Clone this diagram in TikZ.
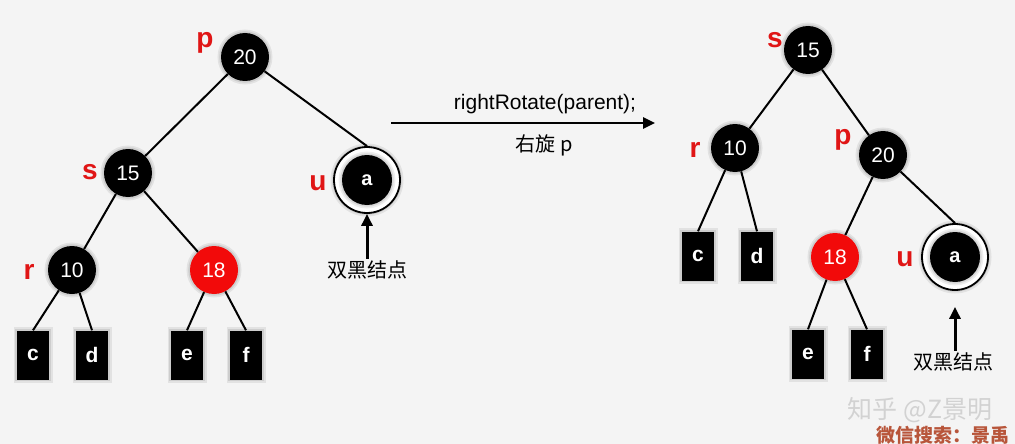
\documentclass[tikz,border=0pt]{standalone}
\usepackage{fontspec}
\setmainfont{Liberation Sans}
\newfontfamily\cjk{Noto Sans CJK SC}
\usetikzlibrary{arrows.meta}
\definecolor{bg}{HTML}{F4F4F4}
\definecolor{nodered}{HTML}{F20A0A}
\definecolor{lblred}{HTML}{E01515}
\definecolor{wmgray}{HTML}{D2D2D2}
\definecolor{wmbrown}{HTML}{B8553A}
\tikzset{
  shd/.style={preaction={draw=black,draw opacity=0.07,line width=7pt},preaction={draw=black,draw opacity=0.09,line width=3.5pt}},
  bnode/.style={circle,fill=black,minimum size=48pt,inner sep=0pt,text=white,font=\fontsize{21}{21}\selectfont,shd},
  rnode/.style={bnode,fill=nodered},
  leaf/.style={rectangle,fill=black,minimum width=32pt,minimum height=49pt,inner sep=0pt,text=white,font=\bfseries\fontsize{21}{21}\selectfont,shd},
  dring/.style={circle,draw=black,line width=1.8pt,fill=white,minimum size=66pt,inner sep=0pt,shd},
  dinner/.style={circle,fill=black,minimum size=50pt,inner sep=0pt,text=white,font=\bfseries\fontsize{20}{20}\selectfont,shd},
  lbl/.style={text=lblred,font=\bfseries\fontsize{28}{28}\selectfont,inner sep=0pt},
  edge/.style={line width=2pt},
  cn/.style={font=\cjk\fontsize{20}{20}\selectfont,inner sep=2pt},
  uparrow/.style={line width=3pt,-{Triangle[length=12pt,width=11pt]}},
}
\begin{document}
\begin{tikzpicture}[x=1pt,y=-1pt]
\useasboundingbox (0,0) rectangle (1015,444);
\fill[bg] (0,0) rectangle (1015,444);

% ---------- left tree ----------
\node[bnode] (p) at (245,57) {20};
\node[bnode] (s) at (128,173) {15};
\node[dring] (u) at (367,180) {};
\node[dinner] (ua) at (367,180) {a};
\node[bnode] (r) at (72,270) {10};
\node[rnode] (n18) at (214,270) {18};
\node[leaf] (c) at (33,355) {c};
\node[leaf] (d) at (92,355) {d};
\node[leaf] (e) at (187,355) {e};
\node[leaf] (f) at (246,355) {f};

\draw[edge] (p) -- (s);
\draw[edge] (p) -- (u.north);
\draw[edge] (s) -- (r);
\draw[edge] (s) -- (n18);
\draw[edge] (r) -- (c.north);
\draw[edge] (r) -- (d.north);
\draw[edge] (n18) -- (e.north);
\draw[edge] (n18) -- (f.north);

\node[lbl] (lp) at (205,43) {p};
\node[lbl] (ls) at (90,172) {s};
\node[lbl] (lr) at (29,272) {r};
\node[lbl] (lu) at (318,183) {u};

\node[cn] (dbl) at (367,270) {双黑结点};
\draw[uparrow] (u.south |- dbl.north) -- (u.south);

% ---------- middle arrow ----------
\coordinate (a1) at (391,123);
\coordinate (a2) at (655,123);
\draw[line width=2.6pt,-{Triangle[length=12pt,width=11pt]}] (a1) -- (a2);
\node[font=\fontsize{21}{21}\selectfont] (rot) at (545,104) {rightRotate(parent);};
\node[cn] (rotcn) at (544,145) {右旋 p};

% ---------- right tree ----------
\node[bnode] (s2) at (808,50) {15};
\node[bnode] (r2) at (735,148) {10};
\node[bnode] (p2) at (883,155) {20};
\node[rnode] (m18) at (835,257) {18};
\node[dring] (u2) at (955,257) {};
\node[dinner] (ua2) at (955,257) {a};
\node[leaf] (c2) at (698,256) {c};
\node[leaf] (d2) at (757,256) {d};
\node[leaf] (e2) at (808,354) {e};
\node[leaf] (f2) at (867,354) {f};

\draw[edge] (s2) -- (r2);
\draw[edge] (s2) -- (p2);
\draw[edge] (r2) -- (c2.north);
\draw[edge] (r2) -- (d2.north);
\draw[edge] (p2) -- (m18);
\draw[edge] (p2) -- (u2.north);
\draw[edge] (m18) -- (e2.north);
\draw[edge] (m18) -- (f2.north);

\node[lbl] (ls2) at (775,40) {s};
\node[lbl] (lr2) at (695,150) {r};
\node[lbl] (lp2) at (843,140) {p};
\node[lbl] (lu2) at (905,259) {u};

\node[cn] (dbl2) at (953,362) {双黑结点};
\draw[uparrow,shorten >=16pt] (u2.south |- dbl2.north) -- (u2.south);

% ---------- watermark ----------
\node[font=\cjk\fontsize{25}{25}\selectfont,text=wmgray] (wm1) at (920,410) {知乎 @Z景明};
\node[font=\cjk\bfseries\fontsize{19}{19}\selectfont,text=wmbrown] (wm2) at (943,435) {微信搜索：景禹};
\end{tikzpicture}
\end{document}
